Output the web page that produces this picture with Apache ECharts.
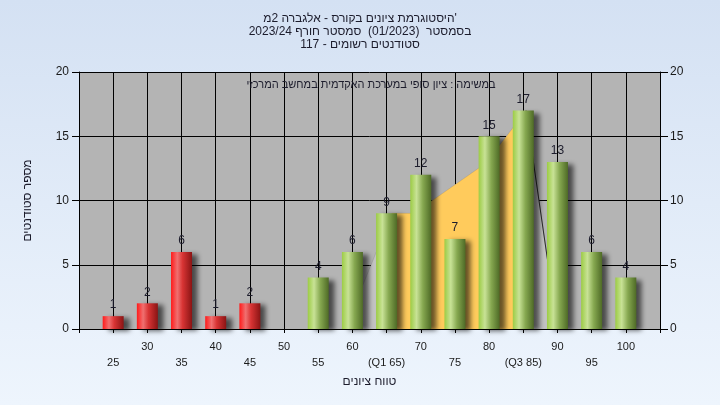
<!DOCTYPE html>
<html><head><meta charset="utf-8">
<script src="https://cdn.jsdelivr.net/npm/echarts@6/dist/echarts.min.js"></script>
<style>html,body{margin:0;padding:0;width:720px;height:405px;overflow:hidden}#c{width:720px;height:405px}</style>
</head><body><div id="c"></div>
<script>
// ---- data ----
const grades = [25, 30, 35, 40, 45, 50, 55, 60, 65, 70, 75, 80, 85, 90, 95, 100];
const counts = [1, 2, 6, 1, 2, 0, 4, 6, 9, 12, 7, 15, 17, 13, 6, 4];
const passGrade = 55;
const tickValues = [25, 30, 35, 40, 45, 50, 55, 60, 65, 70, 75, 80, 85, 90, 95, 100];
const tickTexts = ['25', '30', '35', '40', '45', '50', '55', '60', '(Q1 65)', '70', '75', '80', '(Q3 85)', '90', '95', '100'];
// background distribution outline
const curvePts = [[58.9, 0], [65.8, 9], [69, 9], [79.5, 12.9], [85.4, 17], [90, 0]];
// inter-quartile (Q1..Q3) shaded part
const iqrPts = [[65, 8], [65.8, 9], [69, 9], [79.5, 12.9], [85, 16.7]];
const edgePts = [[85.4, 17], [90, 0]];

const RLE = '\u202B', PDF = '\u202C';
const rtl = s => RLE + s + PDF;
const titleLines = [
  "'היסטוגרמת ציונים בקורס - אלגברה 2מ",
  "בסמסטר  (01/2023)  סמסטר חורף 2023/24",
  "סטודנטים רשומים - 117"
];
const subTitle = "במשימה : ציון סופי במערכת האקדמית במחשב המרכזי";
const yName = "מספר סטודנטים";
const xName = "טווח ציונים";

const FONT = '"Liberation Sans", Arial, "DejaVu Sans", sans-serif';
const redGrad = {type:'linear', x:0, y:0, x2:1, y2:0, colorStops:[
  {offset:0, color:'#ff1a1a'}, {offset:0.3, color:'#f07070'}, {offset:0.55, color:'#d83434'}, {offset:1, color:'#8a1414'}]};
const greenGrad = {type:'linear', x:0, y:0, x2:1, y2:0, colorStops:[
  {offset:0, color:'#9ccc44'}, {offset:0.3, color:'#c8e296'}, {offset:0.6, color:'#86a850'}, {offset:1, color:'#4e6a26'}]};

const barData = [];
grades.forEach((g, i) => {
  if (counts[i] > 0) barData.push({value:[g, counts[i]], itemStyle:{color: g < passGrade ? redGrad : greenGrad}});
});

const chart = echarts.init(document.getElementById('c'));
chart.setOption({
  animation: false,
  backgroundColor: {type:'linear', x:0, y:0, x2:0, y2:1, colorStops:[{offset:0, color:'#d4e1f3'}, {offset:1, color:'#eef5fd'}]},
  textStyle: {fontFamily: FONT},
  title: {
    text: titleLines.map(rtl).join('\n'), left: 'center', top: 7,
    textStyle: {fontSize: 12, fontWeight: 'normal', color: '#1c1c2c', lineHeight: 13, fontFamily: FONT}
  },
  graphic: [{
    type: 'text', x: 371, y: 85, z: 100,
    style: {text: rtl(subTitle), font: '11px ' + FONT, fill: '#1c1c2c', textAlign: 'center', textVerticalAlign: 'middle'}
  }],
  grid: {left: 79, right: 60, top: 72, bottom: 76, show: true, backgroundColor: '#b4b4b4', borderWidth: 0},
  xAxis: {
    type: 'value', min: 20, max: 105, interval: 5,
    name: rtl(xName), nameLocation: 'middle', nameGap: 47,
    nameTextStyle: {fontSize: 12, color: '#1c1c2c', fontFamily: FONT},
    axisLine: {show: true, lineStyle: {color: '#000', width: 1}},
    axisTick: {show: true, length: 4, lineStyle: {color: '#000'}},
    splitLine: {show: true, lineStyle: {color: '#000', width: 1}},
    axisLabel: {
      fontSize: 11, color: '#1a1a1a', margin: 10, lineHeight: 16, fontFamily: FONT,
      formatter: v => {
        const idx = tickValues.indexOf(v);
        if (idx < 0) return '';
        return (idx % 2 === 0 ? '\n' : '') + tickTexts[idx];
      }
    }
  },
  yAxis: [{
    type: 'value', min: 0, max: 20, interval: 5, position: 'left',
    name: rtl(yName), nameLocation: 'middle', nameGap: 45, nameRotate: 90,
    nameTextStyle: {fontSize: 12, color: '#1c1c2c', fontFamily: FONT},
    axisLine: {show: true, lineStyle: {color: '#000'}},
    axisTick: {show: true, length: 7, lineStyle: {color: '#000'}},
    splitLine: {show: true, lineStyle: {color: '#000', width: 1}},
    axisLabel: {fontSize: 12, color: '#1a1a1a', margin: 10, fontFamily: FONT}
  }, {
    type: 'value', min: 0, max: 20, interval: 5, position: 'right',
    axisLine: {show: true, lineStyle: {color: '#000'}},
    axisTick: {show: true, length: 8, lineStyle: {color: '#000'}},
    splitLine: {show: false},
    axisLabel: {fontSize: 12, color: '#1a1a1a', margin: 10, fontFamily: FONT}
  }],
  series: [{
    type: 'line', data: curvePts, symbol: 'none', z: 1, silent: true,
    lineStyle: {width: 1, color: 'rgba(0,0,0,0.1)'},
    areaStyle: {color: '#c2c2c2', opacity: 1}
  }, {
    type: 'line', data: iqrPts, symbol: 'none', z: 1, silent: true,
    lineStyle: {width: 0},
    areaStyle: {color: '#ffcb5c', opacity: 1}
  }, {
    type: 'line', data: edgePts, symbol: 'none', z: 1, silent: true,
    lineStyle: {width: 1, color: '#2a2a2a'}
  }, {
    type: 'bar', data: barData, barWidth: 21, z: 3,
    itemStyle: {shadowBlur: 5, shadowOffsetX: 6, shadowOffsetY: 2, shadowColor: 'rgba(0,0,0,0.6)'},
    label: {
      show: true, position: 'top', distance: 5, fontSize: 12, fontFamily: FONT,
      formatter: p => String(p.value[1]),
      color: '#1c1c2c'
    }
  }]
});
</script></body></html>
